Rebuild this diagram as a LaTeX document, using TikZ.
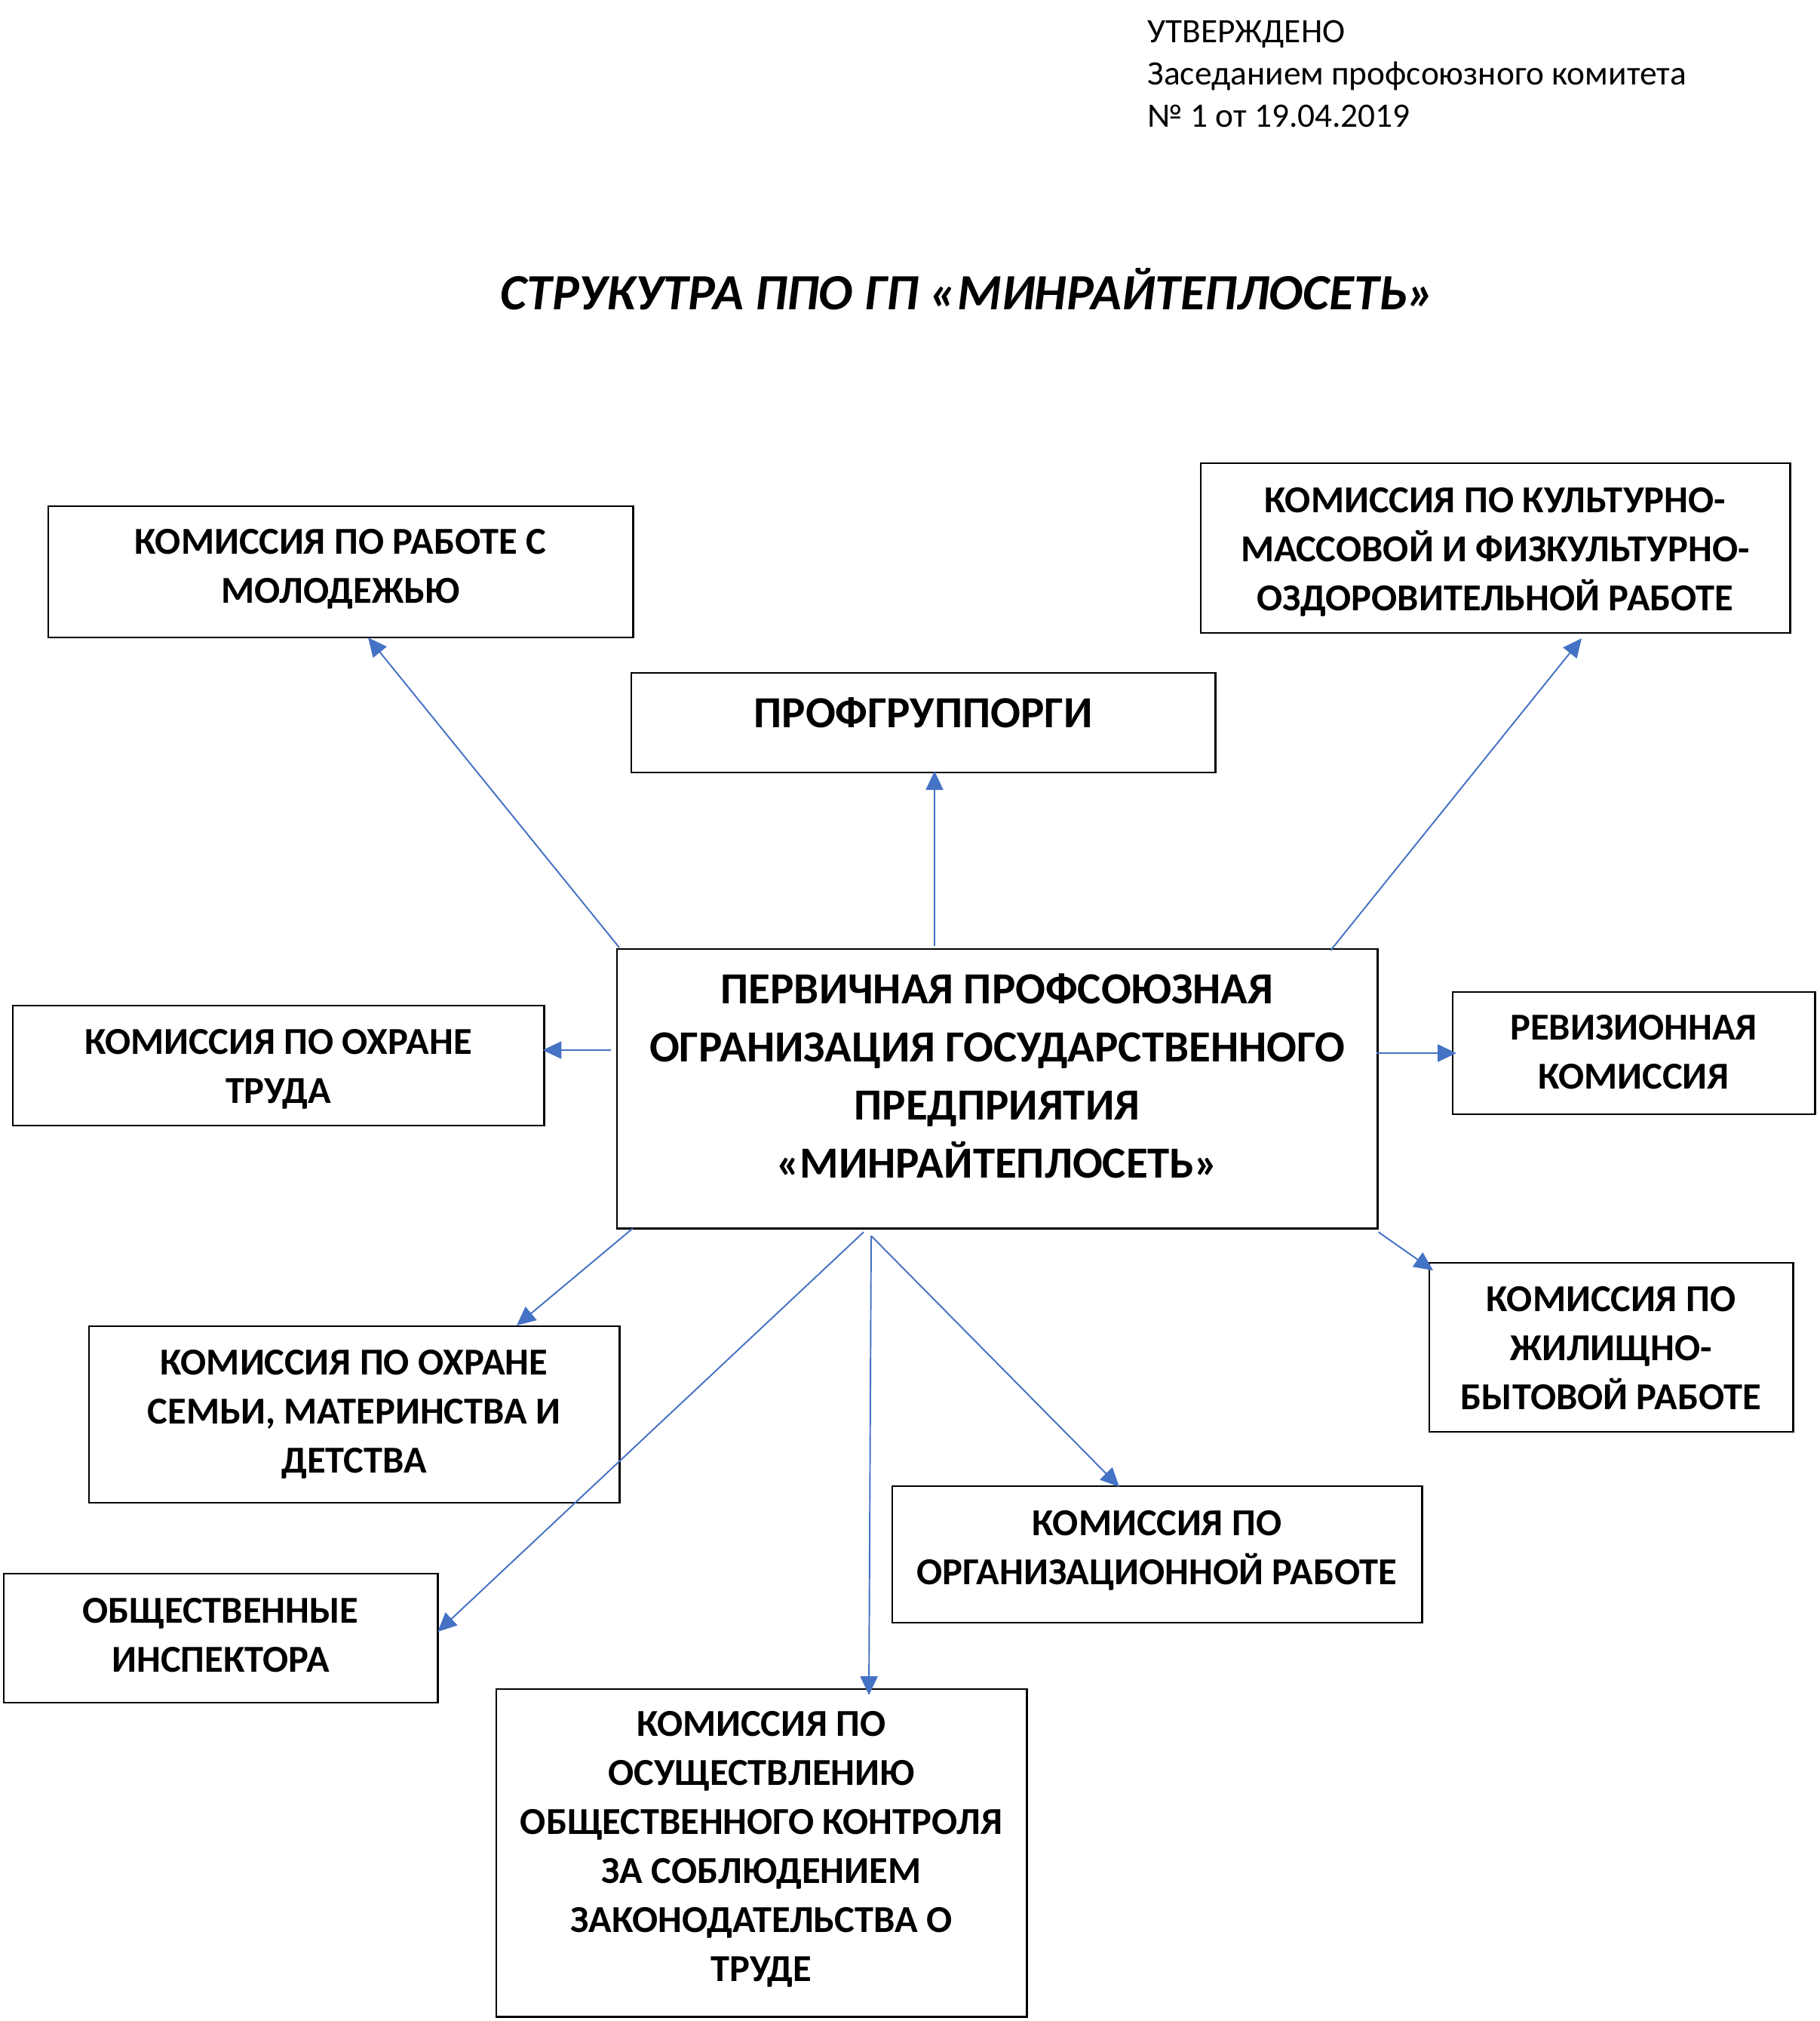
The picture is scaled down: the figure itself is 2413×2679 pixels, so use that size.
\documentclass[tikz,border=0pt]{standalone}
\usepackage{fontspec}
\setmainfont{Carlito}
\usetikzlibrary{arrows.meta,calc}
\definecolor{arrowblue}{HTML}{4472C4}
\newcommand{\clines}[1]{\begin{tabular}[t]{@{}c@{}}#1\end{tabular}}
\newcommand{\llines}[1]{\begin{tabular}[t]{@{}l@{}}#1\end{tabular}}
\begin{document}
\begin{tikzpicture}[x=0.01cm,y=-0.01cm,
  frame/.style={draw=black, line width=0.75pt, inner sep=0pt, outer sep=0pt, anchor=north west},
  boxtext/.style={anchor=base, inner sep=0pt, font=\fontsize{14.35}{18.5}\selectfont\bfseries},
  bigtext/.style={anchor=base, inner sep=0pt, font=\fontsize{16.75}{21.9}\selectfont\bfseries},
  link/.style={draw=arrowblue, line width=0.55pt, -{Triangle[length=0.25cm,width=0.23cm]}}
]
\fill[white] (0,0) rectangle (2413,2679);
\useasboundingbox (0,0) rectangle (2413,2679);

% header
\node[anchor=base west, inner sep=0pt, font=\fontsize{12.9}{15.9}\selectfont] (approved) at (1521,57)
  {\llines{УТВЕРЖДЕНО\\Заседанием профсоюзного комитета\\№ 1 от 19.04.2019}};
% title
\node[anchor=base, inner sep=0pt, font=\fontsize{19.15}{22}\selectfont\bfseries\itshape] (title) at (1283,411)
  {СТРУКУТРА ППО ГП «МИНРАЙТЕПЛОСЕТЬ»};

% boxes
\node[frame, minimum width=7.75cm, minimum height=1.74cm] (youth) at (64,671) {};
\node[frame, minimum width=7.81cm, minimum height=2.25cm] (culture) at (1592,614) {};
\node[frame, minimum width=7.74cm, minimum height=1.32cm] (prof) at (837,892) {};
\node[frame, minimum width=10.08cm, minimum height=3.70cm] (central) at (818,1258) {};
\node[frame, minimum width=7.04cm, minimum height=1.59cm] (okh) at (17,1333) {};
\node[frame, minimum width=4.80cm, minimum height=1.62cm] (rev) at (1926,1315) {};
\node[frame, minimum width=4.82cm, minimum height=2.24cm] (housing) at (1895,1674) {};
\node[frame, minimum width=7.03cm, minimum height=2.34cm] (family) at (118,1758) {};
\node[frame, minimum width=7.02cm, minimum height=1.81cm] (org) at (1183,1970) {};
\node[frame, minimum width=5.75cm, minimum height=1.71cm] (insp) at (5,2086) {};
\node[frame, minimum width=7.03cm, minimum height=4.34cm] (legis) at (658,2239) {};

% texts
\node[boxtext] (youthT) at (451.5,734) {\clines{КОМИССИЯ ПО РАБОТЕ С\\МОЛОДЕЖЬЮ}};
\node[boxtext] (cultureT) at (1982.5,679) {\clines{КОМИССИЯ ПО КУЛЬТУРНО-\\МАССОВОЙ И ФИЗКУЛЬТУРНО-\\ОЗДОРОВИТЕЛЬНОЙ РАБОТЕ}};
\node[bigtext] (profT) at (1224,964) {ПРОФГРУППОРГИ};
\node[bigtext] (centralT) at (1322,1330) {\clines{ПЕРВИЧНАЯ ПРОФСОЮЗНАЯ\\ОГРАНИЗАЦИЯ ГОСУДАРСТВЕННОГО\\ПРЕДПРИЯТИЯ\\«МИНРАЙТЕПЛОСЕТЬ»}};
\node[boxtext] (okhT) at (369,1397) {\clines{КОМИССИЯ ПО ОХРАНЕ\\ТРУДА}};
\node[boxtext] (revT) at (2166,1378) {\clines{РЕВИЗИОННАЯ\\КОМИССИЯ}};
\node[boxtext] (housingT) at (2136,1738) {\clines{КОМИССИЯ ПО\\ЖИЛИЩНО-\\БЫТОВОЙ РАБОТЕ}};
\node[boxtext] (familyT) at (469.5,1822) {\clines{КОМИССИЯ ПО ОХРАНЕ\\СЕМЬИ, МАТЕРИНСТВА И\\ДЕТСТВА}};
\node[boxtext] (orgT) at (1534,2035) {\clines{КОМИССИЯ ПО\\ОРГАНИЗАЦИОННОЙ РАБОТЕ}};
\node[boxtext] (inspT) at (292.5,2151) {\clines{ОБЩЕСТВЕННЫЕ\\ИНСПЕКТОРА}};
\node[boxtext] (legisT) at (1009.5,2301) {\clines{КОМИССИЯ ПО\\ОСУЩЕСТВЛЕНИЮ\\ОБЩЕСТВЕННОГО КОНТРОЛЯ\\ЗА СОБЛЮДЕНИЕМ\\ЗАКОНОДАТЕЛЬСТВА О\\ТРУДЕ}};

% connectors
\draw[link] ($(central.north west)+(3,-2)$) -- ($(youth.south west)+(424,0)$);
\draw[link] ($(central.north west)+(421,-4)$) -- ($(prof.south west)+(402,-2)$);
\draw[link] ($(central.north west)+(946,2)$) -- ($(culture.south west)+(505,7)$);
\draw[link] ($(central.north west)+(-8,134)$) -- ($(okh.north east)+(-2,59)$);
\draw[link] ($(central.north east)+(-2,138)$) -- ($(rev.north west)+(5,81)$);
\draw[link] ($(central.south east)+(1,5)$) -- ($(housing.north west)+(5,10)$);
\draw[link] ($(central.south west)+(21,0)$) -- ($(family.north west)+(567,-1)$);
\draw[link] ($(central.south west)+(327,5)$) -- ($(insp.north east)+(0,77)$);
\draw[link] ($(central.south west)+(337,10)$) -- ($(legis.north west)+(494,8)$);
\draw[link] ($(central.south west)+(337,10)$) -- ($(org.north west)+(301,1)$);
\end{tikzpicture}
\end{document}
